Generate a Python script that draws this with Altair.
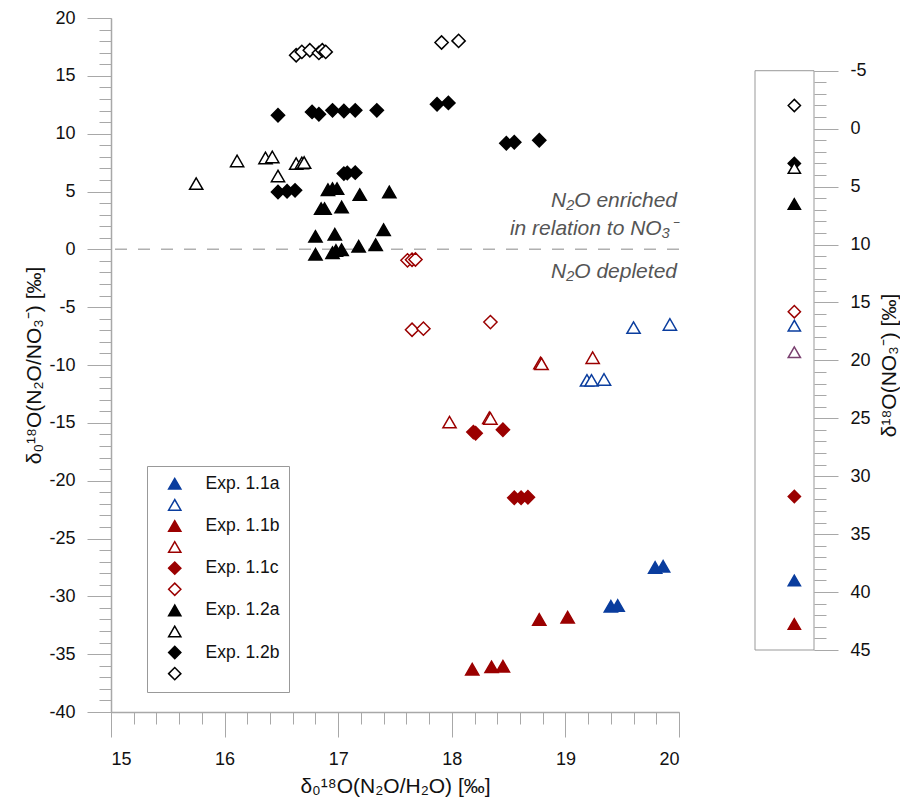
import altair as alt
import pandas as pd

# ---------------- data ----------------
series_names = ["Exp. 1.1a", "Exp. 1.1a open", "Exp. 1.1b", "Exp. 1.1b open",
                "Exp. 1.1c", "Exp. 1.1c open", "Exp. 1.2a", "Exp. 1.2a open",
                "Exp. 1.2b", "Exp. 1.2b open"]

e11a_x = [19.79, 19.86, 19.40, 19.46]
e11a_y = [-27.5, -27.4, -30.86, -30.8]
e11a_open_x = [19.60, 19.92, 19.19, 19.23, 19.34]
e11a_open_y = [-6.77, -6.49, -11.33, -11.33, -11.25]
e11b_x = [18.77, 19.02, 18.18, 18.35, 18.45]
e11b_y = [-32.0, -31.8, -36.3, -36.1, -36.05]
e11b_open_x = [18.78, 18.79, 19.24, 17.98, 18.33, 18.34]
e11b_open_y = [-9.83, -9.9, -9.37, -14.94, -14.56, -14.62]
e11c_x = [18.19, 18.21, 18.45, 18.55, 18.61, 18.67]
e11c_y = [-15.8, -15.9, -15.6, -21.48, -21.48, -21.43]
e11c_open_x = [17.61, 17.65, 17.68, 17.65, 17.75, 18.34]
e11c_open_y = [-0.95, -0.90, -0.88, -6.95, -6.86, -6.29]
e12a_x = [16.91, 16.95, 16.99, 17.19, 17.45, 16.85, 16.88, 17.03, 16.80, 16.97,
          17.40, 16.80, 16.95, 16.98, 17.03, 17.18, 17.33]
e12a_y = [5.16, 5.25, 5.25, 4.73, 4.96, 3.52, 3.52, 3.66, 1.12, 1.30,
          1.70, -0.43, -0.29, -0.10, -0.03, 0.26, 0.40]
e12a_open_x = [15.75, 16.11, 16.36, 16.42, 16.47, 16.63, 16.68, 16.70]
e12a_open_y = [5.68, 7.64, 7.90, 7.99, 6.34, 7.41, 7.47, 7.50]
e12b_x = [16.47, 16.77, 16.83, 16.95, 17.05, 17.15, 17.34, 17.87, 17.97, 18.48,
          18.55, 18.77, 16.47, 16.55, 16.62, 17.05, 17.08, 17.15]
e12b_y = [11.59, 11.88, 11.68, 12.02, 11.96, 12.02, 12.02, 12.54, 12.66, 9.17,
          9.26, 9.43, 4.96, 5.02, 5.10, 6.55, 6.60, 6.63]
e12b_open_x = [16.63, 16.68, 16.75, 16.83, 16.86, 16.89, 17.91, 18.06]
e12b_open_y = [16.78, 17.07, 17.21, 16.98, 17.21, 17.07, 17.88, 18.02]

series_x = [e11a_x, e11a_open_x, e11b_x, e11b_open_x, e11c_x, e11c_open_x,
            e12a_x, e12a_open_x, e12b_x, e12b_open_x]
series_y = [e11a_y, e11a_open_y, e11b_y, e11b_open_y, e11c_y, e11c_open_y,
            e12a_y, e12a_open_y, e12b_y, e12b_open_y]

# right panel: d18O of nitrate
nitrate_series = ["Exp. 1.2b open", "Exp. 1.2b", "Exp. 1.2a open", "Exp. 1.2a",
                  "Exp. 1.1c open", "Exp. 1.1a open", "Exp. 1.1b open",
                  "Exp. 1.1c", "Exp. 1.1a", "Exp. 1.1b"]
nitrate_d18O = [-2.0, 3.0, 3.4, 6.5, 15.8, 17.0, 19.3, 31.75, 39.0, 42.75]

annot_text = ["N₂O enriched", "in relation to NO₃⁻", "N₂O depleted"]
annot_y = [4.2, 1.8, -2.0]

y_major = list(range(-40, 21, 5))
y_minor = list(range(-40, 21, 1))
x_major = [15, 16, 17, 18, 19, 20]
x_minor = [round(15 + 0.2 * i, 1) for i in range(26)]
r_major = list(range(-5, 46, 5))
r_minor = list(range(-5, 46, 1))

# ---------------- styles ----------------
BLUE = "#0a3d9e"
RED = "#9b0000"
BLACK = "#000000"
PURPLE = "#7a4070"
FONT = "Liberation Sans"
AX_GRAY = "#a8a8a8"
PLAIN_LABEL = "'' + datum.value"

fill_range = [BLUE, "white", RED, "white", RED, "white", BLACK, "white", BLACK, "white"]
stroke_range = [BLUE, BLUE, RED, RED, RED, RED, BLACK, BLACK, BLACK, BLACK]
stroke_range_right = [BLUE, BLUE, RED, PURPLE, RED, RED, BLACK, BLACK, BLACK, BLACK]
shape_range = ["triangle-up"] * 4 + ["diamond"] * 2 + ["triangle-up"] * 2 + ["diamond"] * 2

rows = []
for name, xs, ys in zip(series_names, series_x, series_y):
    for xv, yv in zip(xs, ys):
        rows.append({"series": name, "x": xv, "y": yv})
df = pd.DataFrame(rows)

xscale = alt.Scale(domain=[15, 20], nice=False, zero=False)
yscale = alt.Scale(domain=[-40, 20], nice=False, zero=False)

legend = alt.Legend(
    title=None, orient="none", legendX=36, legendY=448,
    strokeColor="#999", fillColor="white", padding=9,
    labelFont=FONT, labelFontSize=17.5, labelColor="#111",
    symbolSize=150, symbolStrokeWidth=1.5, rowPadding=2.1,
    symbolOffset=10, labelOffset=22,
    labelExpr="indexof(datum.label, 'open') >= 0 ? '' : datum.label",
)

major_x_axis = alt.Axis(values=x_major, tickSize=25, labelFontSize=18, labelFont=FONT,
                        labelColor="#111", labelPadding=13, labelExpr=PLAIN_LABEL,
                        title="δ₀¹⁸O(N₂O/H₂O) [‰]",
                        titleFont=FONT, titleFontSize=21, titleFontWeight="normal",
                        titleColor="#111", titlePadding=7, grid=False,
                        domainColor=AX_GRAY, domainWidth=1.5, tickColor=AX_GRAY, orient="bottom")
major_y_axis = alt.Axis(values=y_major, tickSize=24, labelFontSize=18, labelFont=FONT,
                        labelColor="#111", labelPadding=12, labelExpr=PLAIN_LABEL,
                        title="δ₀¹⁸O(N₂O/NO₃⁻) [‰]",
                        titleFont=FONT, titleFontSize=21, titleFontWeight="normal",
                        titleColor="#111", titlePadding=4, grid=False,
                        domainColor=AX_GRAY, domainWidth=1.5, tickColor=AX_GRAY, orient="left")
minor_x_axis = alt.Axis(values=x_minor, tickSize=12, labels=False, title=None, grid=False,
                        domain=False, tickColor=AX_GRAY, orient="bottom")
minor_y_axis = alt.Axis(values=y_minor, tickSize=12, labels=False, title=None, grid=False,
                        domain=False, tickColor=AX_GRAY, orient="left")

points = alt.Chart(df).mark_point(size=175, strokeWidth=1.5, opacity=1, fillOpacity=1).encode(
    x=alt.X("x:Q", scale=xscale, axis=major_x_axis),
    y=alt.Y("y:Q", scale=yscale, axis=major_y_axis),
    shape=alt.Shape("series:N", scale=alt.Scale(domain=series_names, range=shape_range), legend=legend),
    fill=alt.Fill("series:N", scale=alt.Scale(domain=series_names, range=fill_range), legend=legend),
    stroke=alt.Stroke("series:N", scale=alt.Scale(domain=series_names, range=stroke_range), legend=legend),
)

minor = alt.Chart(df).mark_point(opacity=0).encode(
    x=alt.X("x:Q", scale=xscale, axis=minor_x_axis),
    y=alt.Y("y:Q", scale=yscale, axis=minor_y_axis),
)

zero_line = alt.Chart(pd.DataFrame({"y": [0]})).mark_rule(
    color="#b0b0b0", strokeWidth=1.5, strokeDash=[12, 11]
).encode(y=alt.Y("y:Q", scale=yscale, axis=None))

annot = alt.Chart(pd.DataFrame({"t": annot_text, "y": annot_y, "x": [20] * 3})).mark_text(
    align="right", baseline="middle", font=FONT, fontSize=21, fontStyle="italic",
    color="#555555", dx=-2
).encode(x=alt.X("x:Q", scale=xscale, axis=None), y=alt.Y("y:Q", scale=yscale, axis=None), text="t:N")

main = alt.layer(minor, zero_line, annot, points).resolve_axis(
    x="independent", y="independent"
).properties(width=568, height=694)

# ---------------- right panel ----------------
rdf = pd.DataFrame({"series": nitrate_series, "v": nitrate_d18O, "pos": [2] * len(nitrate_series)})
rscale = alt.Scale(domain=[-9.55, 50.35], reverse=True, nice=False, zero=False)
rx = alt.Scale(domain=[0, 3], nice=False, zero=False)

box = alt.Chart(pd.DataFrame({"x0": [0], "x1": [3], "y0": [r_major[0]], "y1": [r_major[-1]]})).mark_rect(
    fill="white", stroke="#999", strokeWidth=1
).encode(
    x=alt.X("x0:Q", scale=rx, axis=None), x2="x1:Q",
    y=alt.Y("y0:Q", scale=rscale, axis=alt.Axis(
        values=r_major, tickSize=24, labelFontSize=18, labelFont=FONT, labelColor="#111",
        labelPadding=12, labelExpr=PLAIN_LABEL, title="δ¹⁸O(NO₃⁻) [‰]", titleFont=FONT,
        titleFontSize=21, titleFontWeight="normal", titleColor="#111", titleAngle=270,
        titlePadding=29, grid=False, domain=False, tickColor=AX_GRAY, orient="right")),
    y2="y1:Q",
)
rminor = alt.Chart(rdf).mark_point(opacity=0).encode(
    x=alt.X("pos:Q", scale=rx, axis=None),
    y=alt.Y("v:Q", scale=rscale, axis=alt.Axis(values=r_minor, tickSize=12, labels=False,
                                                 title=None, grid=False, domain=False,
                                                 tickColor=AX_GRAY, orient="right")),
)
rpoints = alt.Chart(rdf).mark_point(size=150, strokeWidth=1.5, opacity=1, fillOpacity=1).encode(
    x=alt.X("pos:Q", scale=rx, axis=None),
    y=alt.Y("v:Q", scale=rscale, axis=None),
    shape=alt.Shape("series:N", scale=alt.Scale(domain=series_names, range=shape_range), legend=None),
    fill=alt.Fill("series:N", scale=alt.Scale(domain=series_names, range=fill_range), legend=None),
    stroke=alt.Stroke("series:N", scale=alt.Scale(domain=series_names, range=stroke_range_right), legend=None),
)
right = alt.layer(rminor, box, rpoints).resolve_axis(y="independent").properties(width=59, height=694)

chart = alt.hconcat(main, right, spacing=76, bounds="flush").resolve_scale(
    x="independent", y="independent", shape="independent", fill="independent", stroke="independent"
).resolve_legend(shape="independent", fill="independent", stroke="independent").properties(
    padding={"left": 15, "top": 1, "right": 0, "bottom": 2}
).configure(font=FONT).configure_view(stroke=None)

chart.save("out.html", embed_options={"renderer": "svg", "actions": False})
